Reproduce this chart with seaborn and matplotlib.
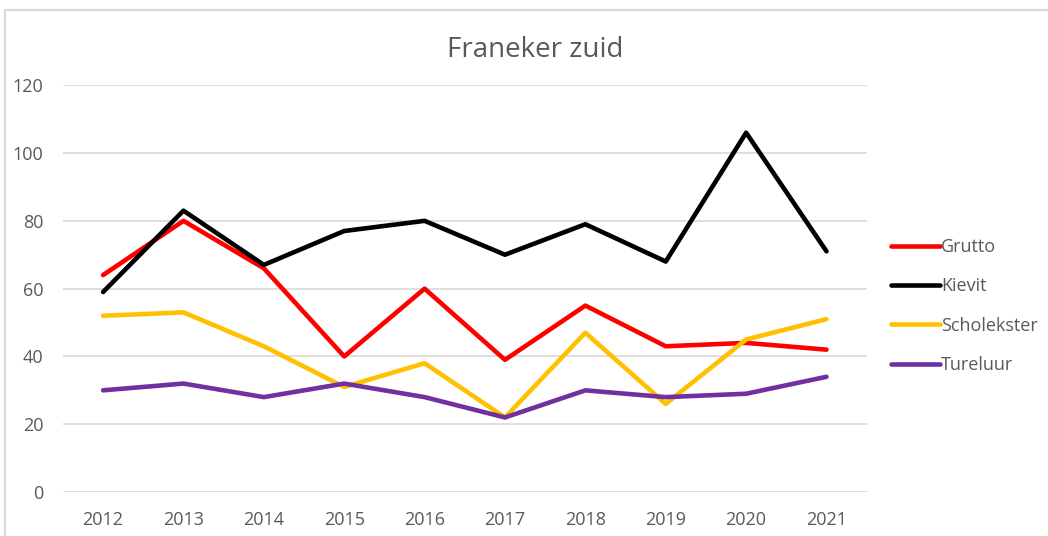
import numpy as np
import pandas as pd
import seaborn as sns
import matplotlib.pyplot as plt
from matplotlib.patches import Rectangle

years = [2012, 2013, 2014, 2015, 2016, 2017, 2018, 2019, 2020, 2021]
grutto = [64, 80, 66, 40, 60, 39, 55, 43, 44, 42]
kievit = [59, 83, 67, 77, 80, 70, 79, 68, 106, 71]
scholekster = [52, 53, 43, 31, 38, 22, 47, 26, 45, 51]
tureluur = [30, 32, 28, 32, 28, 22, 30, 28, 29, 34]

series = ["Grutto", "Kievit", "Scholekster", "Tureluur"]
colors = ["#FF0000", "#000000", "#FFC000", "#7030A0"]

df = pd.DataFrame({
    "jaar": [str(y) for y in years] * 4,
    "aantal": grutto + kievit + scholekster + tureluur,
    "soort": np.repeat(series, len(years)),
})

sns.set_style("white")
plt.rcParams["font.family"] = ["Open Sans", "DejaVu Sans"]

fig = plt.figure(figsize=(10.48, 5.36), dpi=100)
ax = fig.add_axes([0.060, 0.082, 0.767, 0.759])

sns.lineplot(data=df, x="jaar", y="aantal", hue="soort", palette=colors,
             linewidth=3.3, ax=ax, sort=False)

ax.set_xlim(-0.5, len(years) - 0.5)
ax.set_ylim(0, 120)
ax.set_yticks(range(0, 121, 20))
ax.yaxis.grid(True, color="#D9D9D9", linewidth=1.2)
ax.set_axisbelow(True)
for s in ax.spines.values():
    s.set_visible(False)
ax.tick_params(axis="both", length=0, labelsize=13, labelcolor="#595959")
ax.tick_params(axis="y", pad=14)
ax.tick_params(axis="x", pad=14)
ax.set_xlabel("")
ax.set_ylabel("")

ax.set_title("Franeker zuid", fontsize=20, color="#595959", pad=20, x=0.588)

handles, labels = ax.get_legend_handles_labels()
leg = ax.legend(handles, labels, loc="center left", bbox_to_anchor=(1.03, 0.457),
                frameon=False, fontsize=13, handlelength=2.7, handletextpad=0.1,
                labelspacing=1.18, borderaxespad=0, borderpad=0)
for t in leg.get_texts():
    t.set_color("#595959")

# outer chart frame (partly cropped in the reference)
fig.patches.append(Rectangle((0.005, -0.05), 1.2, 1.031, transform=fig.transFigure,
                             fill=False, edgecolor="#D9D9D9", linewidth=1.5))

fig.savefig("out.png", dpi=100)
